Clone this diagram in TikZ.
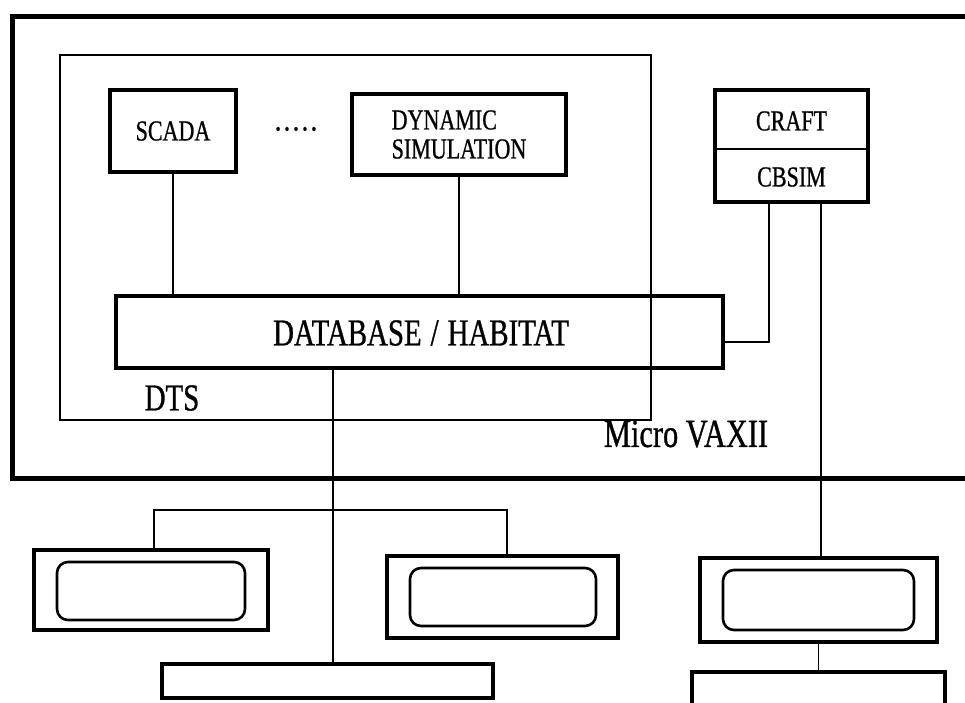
\documentclass[tikz,border=0pt]{standalone}
\usepackage{fontspec}
\setmainfont{Liberation Serif}[FakeStretch=0.76,FakeBold=0.8]
\begin{document}
\begin{tikzpicture}[x=1pt,y=-1pt,
  thickbox/.style={draw,line width=4.5pt,inner sep=0pt,rectangle},
  thinbox/.style={draw,line width=1.6pt,inner sep=0pt,rectangle},
  screen/.style={draw,line width=2.6pt,inner sep=0pt,rounded corners=11pt,rectangle},
  conn/.style={line width=1.6pt},
  lab/.style={font=\fontsize{29}{29}\selectfont,inner sep=0pt,align=center},
  biglab/.style={font=\fontsize{38}{38}\selectfont,inner sep=0pt}
]
\useasboundingbox (0,0) rectangle (965,702);
\clip (0,0) rectangle (965,702);
% containers
\node[thickbox,line width=5pt,minimum width=973,minimum height=462] (vax) at (498.5,247) {};
\node[thinbox,minimum width=591,minimum height=365] (dts) at (355.5,237.5) {};
% application boxes
\node[thickbox,minimum width=126,minimum height=82] (scada) at (173,131) {};
\node[lab] (scadat) at (173,131) {SCADA};
\node[lab,font=\fontsize{34}{34}\selectfont] (dots) at (296,129) {.\hspace{2.5pt}.\hspace{2.5pt}.\hspace{2.5pt}.\hspace{2.5pt}.};
\node[thickbox,minimum width=214,minimum height=81] (dyn) at (459,134.5) {};
\node[lab,align=left] (dynt) at (459,134.5) {DYNAMIC\\SIMULATION};
\node[thickbox,minimum width=153,minimum height=112] (craft) at (791.5,146) {};
\node[lab] (craftt) at (791.5,121) {CRAFT};
\node[lab] (cbsimt) at (791.5,177) {CBSIM};
\coordinate (divl) at (715,149);
\coordinate (divr) at (868,149);
\draw[conn] (divl) -- (divr);
% database
\node[thickbox,minimum width=607,minimum height=72] (db) at (419.5,332) {};
\node[biglab] (dbt) at (421,333) {DATABASE\hspace{9pt}/\hspace{9pt}HABITAT};
\node[biglab] (dtst) at (172,398) {DTS};
\node[biglab,font=\fontsize{40}{40}\selectfont] (vaxt) at (686,434) {Micro VAXII};
% terminals
\node[thickbox,minimum width=234,minimum height=80] (m1) at (151,590) {};
\node[screen,minimum width=188,minimum height=58] (s1) at (151,591) {};
\node[thickbox,minimum width=231,minimum height=82] (m2) at (502.5,597) {};
\node[screen,minimum width=186,minimum height=58] (s2) at (503,597) {};
\node[thickbox,minimum width=237,minimum height=84] (m3) at (818.5,600) {};
\node[screen,minimum width=191,minimum height=60] (s3) at (818.5,600) {};
\node[thickbox,minimum width=331,minimum height=34] (k1) at (327.5,681) {};
\node[thickbox,minimum width=253,minimum height=40] (k2) at (818.5,692) {};
% connectors
\draw[conn] (scada.south) -- (scada.south |- db.north);
\draw[conn] (dyn.south) -- (dyn.south |- db.north);
\coordinate (cl) at (769,342);
\draw[conn] (cl |- craft.south) -- (cl) -- (db.east |- cl);
\coordinate (cr) at (821,300);
\draw[conn] (cr |- craft.south) -- (cr |- m3.north);
\coordinate (dbx) at (333,368);
\draw[conn] (dbx |- db.south) -- (dbx |- k1.north);
\coordinate (bl) at (154,510);
\coordinate (br) at (507,510);
\draw[conn] (bl |- m1.north) -- (bl) -- (br) -- (br |- m2.north);
\draw[conn] (m3.south) -- (k2.north);
\end{tikzpicture}
\end{document}
